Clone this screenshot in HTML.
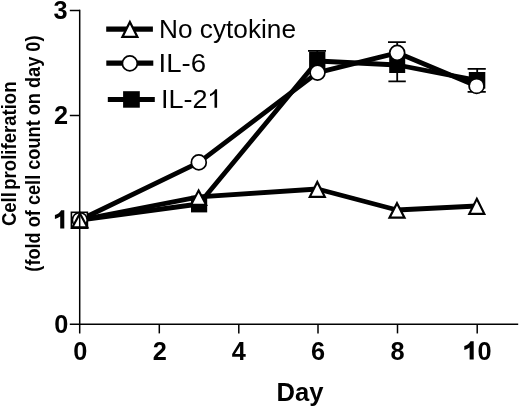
<!DOCTYPE html>
<html><head><meta charset="utf-8">
<style>
html,body{margin:0;padding:0;background:#fff;}
body{width:520px;height:408px;overflow:hidden;position:relative;}
svg{position:absolute;left:0;top:0;display:block;}
text{font-family:"Liberation Sans",sans-serif;fill:#000;}
.b{font-weight:bold;}
</style></head><body>
<svg width="520" height="408" viewBox="0 0 520 408">
<rect width="520" height="408" fill="#fff"/>
<g id="all" style="opacity:0.999">

<!-- series lines -->
<g stroke="#000" stroke-width="4.8" fill="none" stroke-linejoin="round" stroke-linecap="butt">
<path d="M79.8 220L199 204L317.5 61L397.3 65L477 80.3"/>
<path d="M79.8 220L199 162.3L317.5 72.6L397.3 52.8L476.6 86"/>
<path d="M79.8 220L199 196.8L317.5 189L397 210L476.8 206"/>
</g>

<!-- error bars -->
<g stroke="#000" stroke-width="1.8" fill="none">
<!-- IL-21 day6 -->
<path d="M308 50.8H326M317.3 50.8V61"/>
<!-- IL-21 day8 lower -->
<path d="M388.4 81.4H405.8M397.2 65V81.4"/>
<!-- IL-6 day8 upper -->
<path d="M388 42.2H405.8M397.2 42.2V52"/>
<!-- IL-21 day10 -->
<path d="M467.6 68.9H485.8M477.2 68.9V92M467.6 91.8H485.8"/>
</g>

<!-- IL-21 squares -->
<g fill="#000">
<rect x="71.4" y="212.3" width="16" height="15.9" fill="#fff" stroke="#000" stroke-width="1.6"/>
<rect x="191" y="195.8" width="16.2" height="16.6"/>
<rect x="309.1" y="51.6" width="16.3" height="17.5"/>
<rect x="389.2" y="56.5" width="16" height="16.5"/>
<rect x="468.8" y="72" width="16.5" height="16.6"/>
</g>
<!-- IL-6 circles -->
<g fill="#fff" stroke="#000" stroke-width="1.7">
<circle cx="79.8" cy="220" r="7.45"/>
<circle cx="198.8" cy="162.4" r="7.45"/>
<circle cx="317.5" cy="72.6" r="7.45"/>
<circle cx="397.2" cy="52.8" r="7.45"/>
<circle cx="476.6" cy="86" r="7.45"/>
</g>
<!-- triangles -->
<g fill="#fff" stroke="#000" stroke-width="2.2" stroke-linejoin="miter">
<path d="M79.90 213.59L87.40 227.30H72.40Z"/>
<path d="M198.60 190.56L206.10 204.80H191.10Z"/>
<path d="M317.30 182.03L324.80 196.80H309.80Z"/>
<path d="M397.00 203.19L404.50 217.70H389.50Z"/>
<path d="M476.80 198.85L484.30 213.80H469.30Z"/>
</g>

<!-- axes -->
<g stroke="#000" stroke-width="1.5" fill="none">
<path d="M79.7 9.8V333.5"/>
<path d="M69.8 10.5H80"/>
<path d="M69.8 115.5H80"/>
<path d="M69.8 324.2H518.2"/>
<path d="M159.3 324V333.4"/>
<path d="M238.8 324V333.4"/>
<path d="M318 324V333.4"/>
<path d="M397.5 324V333.4"/>
<path d="M477.2 324V333.4"/>
</g>
<!-- y labels -->
<g class="b" font-size="25.3" text-anchor="middle">
<text x="60.5" y="19.4">3</text>
<text x="61" y="123.9">2</text>

<text x="61.3" y="333.4">0</text>
</g>
<g class="b" font-size="25.3" text-anchor="middle">
<text x="80.4" y="359.8">0</text>
<text x="159.8" y="359.8">2</text>
<text x="238.9" y="359.8">4</text>
<text x="318.1" y="359.8">6</text>
<text x="397.6" y="359.8">8</text>
<text x="484.6" y="359.8">0</text>
<text x="300" y="400.7" font-size="25.6">Day</text>
</g>
<g class="b" font-size="19.7" text-anchor="middle">
<text transform="translate(16.2,153.8) rotate(-90) scale(0.943,1)" word-spacing="-3">Cell proliferation</text>
<text transform="translate(39.8,153.6) rotate(-90) scale(0.923,1)">(fold of cell count on day 0)</text>
</g>
<path d="M64.30 228.60H60.20V216.50C58.60 217.70 56.70 218.50 54.90 218.90V215.10C57.70 214.30 60.10 212.50 61.10 210.30H64.30Z" fill="#000"/>
<path d="M473.70 359.60H469.60V347.50C468.00 348.70 466.10 349.50 464.30 349.90V346.10C467.10 345.30 469.50 343.50 470.50 341.30H473.70Z" fill="#000"/>
<!-- legend -->
<g stroke="#000" stroke-width="5.1">
<path d="M106.2 29.1H152.9"/>
<path d="M106.3 63.1H153.3"/>
<path d="M107.8 99.5H154.8"/>
</g>
<path d="M129.90 22.04L137.40 36.90H122.40Z" fill="#fff" stroke="#000" stroke-width="2.2"/>
<circle cx="129.85" cy="63.4" r="7.45" fill="#fff" stroke="#000" stroke-width="1.7"/>
<rect x="123.1" y="91.2" width="16.7" height="16.5" fill="#000"/>
<g font-size="25.9">
<text x="159" y="37.5" textLength="137" lengthAdjust="spacingAndGlyphs">No cytokine</text>
<text x="158.6" y="71.5" textLength="47.5" lengthAdjust="spacingAndGlyphs">IL-6</text>
<text x="160.9" y="107.6" textLength="46.6" lengthAdjust="spacingAndGlyphs">IL-2</text>
<path d="M217.1 107.7H214.5V93.6C213.3 94.8 211.6 95.8 210 96.3V94C212.4 93 214.2 91.2 215.2 89.2H217.1Z" fill="#000" transform="translate(0,0)"/>
</g>
</g>
</svg>
</body></html>
